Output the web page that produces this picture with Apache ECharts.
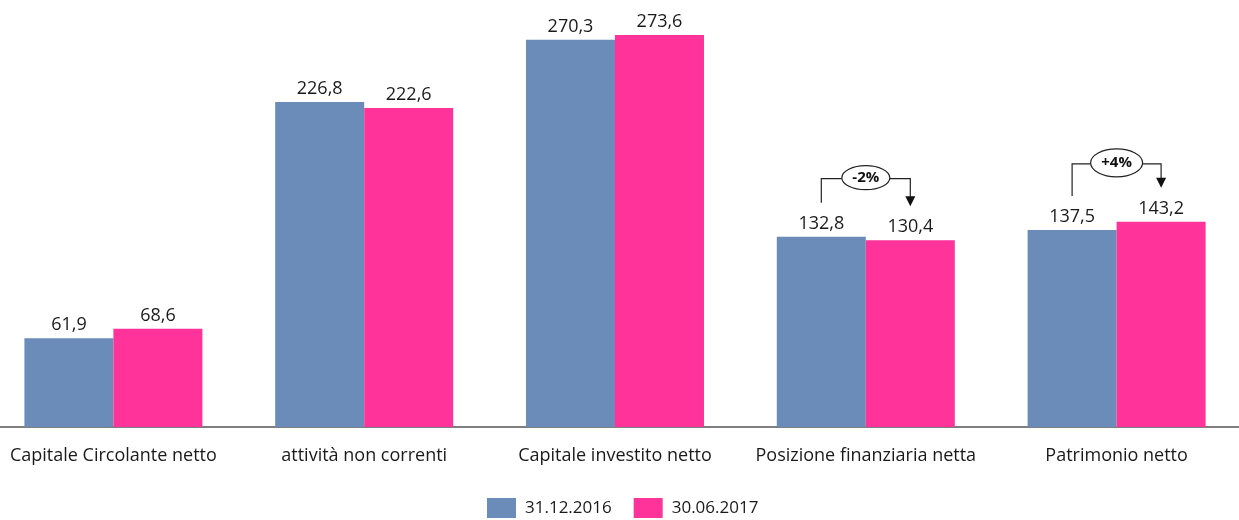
<!DOCTYPE html>
<html>
<head>
<meta charset="utf-8">
<script src="https://cdn.jsdelivr.net/npm/echarts@6/dist/echarts.min.js"></script>
<style>html,body{margin:0;padding:0;background:#fff;overflow:hidden;width:1239px;height:520px;position:relative}#c{position:absolute;left:-12px;top:0;width:1254px;height:520px}</style>
</head>
<body>
<div id="c"></div>
<script>
const categories = ['Capitale Circolante netto', 'attività non correnti', 'Capitale investito netto', 'Posizione finanziaria netta', 'Patrimonio netto'];
const seriesNames = ['31.12.2016', '30.06.2017'];
const values2016 = [61.9, 226.8, 270.3, 132.8, 137.5];
const values2017 = [68.6, 222.6, 273.6, 130.4, 143.2];
const annotationCats = [3, 4];
const annotationTexts = ['-2%', '+4%'];

const BLUE = '#6B8CB8';
const PINK = '#FF3399';
const FONT = 'Open Sans';
const fmt = v => v.toFixed(1).replace('.', ',');

const chart = echarts.init(document.getElementById('c'), null, {renderer: 'canvas'});
const labelCfg = {
  show: true, position: 'top', distance: 4,
  color: '#1a1a1a', fontFamily: FONT, fontSize: 18,
  formatter: p => fmt(p.value)
};
chart.setOption({
  animation: false,
  backgroundColor: '#fff',
  grid: {left: 0, right: 0, top: 0, bottom: 93, containLabel: false},
  legend: {
    bottom: 2, left: 499, padding: 0, itemWidth: 29, itemHeight: 20, itemGap: 22,
    icon: 'rect',
    textStyle: {fontFamily: FONT, fontSize: 17, color: '#1a1a1a', padding: [0, 0, 0, 4]},
    data: seriesNames
  },
  xAxis: {
    type: 'category', data: categories,
    axisLine: {lineStyle: {color: '#555', width: 1.5}},
    axisTick: {show: false},
    axisLabel: {fontFamily: FONT, fontSize: 18, color: '#1a1a1a', margin: 20, interval: 0, hideOverlap: false}
  },
  yAxis: {type: 'value', min: 0, max: 298, show: false, splitLine: {show: false}},
  series: [
    {name: seriesNames[0], type: 'bar', data: values2016, barWidth: 89, barGap: '0%',
     itemStyle: {color: BLUE}, label: labelCfg},
    {name: seriesNames[1], type: 'bar', data: values2017, barWidth: 89, barGap: '0%',
     itemStyle: {color: PINK}, label: labelCfg}
  ]
});

// Annotations computed from the axis scales
const graphics = [];
annotationCats.forEach((ci, k) => {
  const c = chart.convertToPixel({seriesIndex: 0}, [ci, 0]);
  const pA = chart.convertToPixel({seriesIndex: 0}, [ci, values2016[ci]]);
  const pB = chart.convertToPixel({seriesIndex: 0}, [ci, values2017[ci]]);
  const xA = c[0] - 44.5, xB = c[0] + 44.5;
  const yA = pA[1], yB = pB[1];
  const yH = Math.min(yA, yB) - 58;
  const yAend = yA - 34, yBend = yB - 34;
  const xm = (xA + xB) / 2;
  const rx = k === 0 ? 24 : 26, ry = k === 0 ? 12 : 14;
  graphics.push({type: 'polyline', shape: {points: [[xA, yAend], [xA, yH], [xm - rx, yH]]},
    style: {stroke: '#222', lineWidth: 1.2, fill: null}, z: 100});
  graphics.push({type: 'polyline', shape: {points: [[xm + rx, yH], [xB, yH], [xB, yBend - 9]]},
    style: {stroke: '#222', lineWidth: 1.2, fill: null}, z: 100});
  graphics.push({type: 'polygon', shape: {points: [[xB - 5, yBend - 10], [xB + 5, yBend - 10], [xB, yBend]]},
    style: {fill: '#111'}, z: 100});
  graphics.push({type: 'ellipse', shape: {cx: xm, cy: yH - 1, rx: rx, ry: ry},
    style: {fill: '#fff', stroke: '#222', lineWidth: 1.2}, z: 100});
  graphics.push({type: 'text', x: xm, y: yH - 1, z: 101,
    style: {text: annotationTexts[k], fontFamily: FONT, fontSize: 15, fontWeight: 'bold',
      fill: '#111', align: 'center', verticalAlign: 'middle'}});
});
chart.setOption({graphic: graphics});
</script>
</body>
</html>
